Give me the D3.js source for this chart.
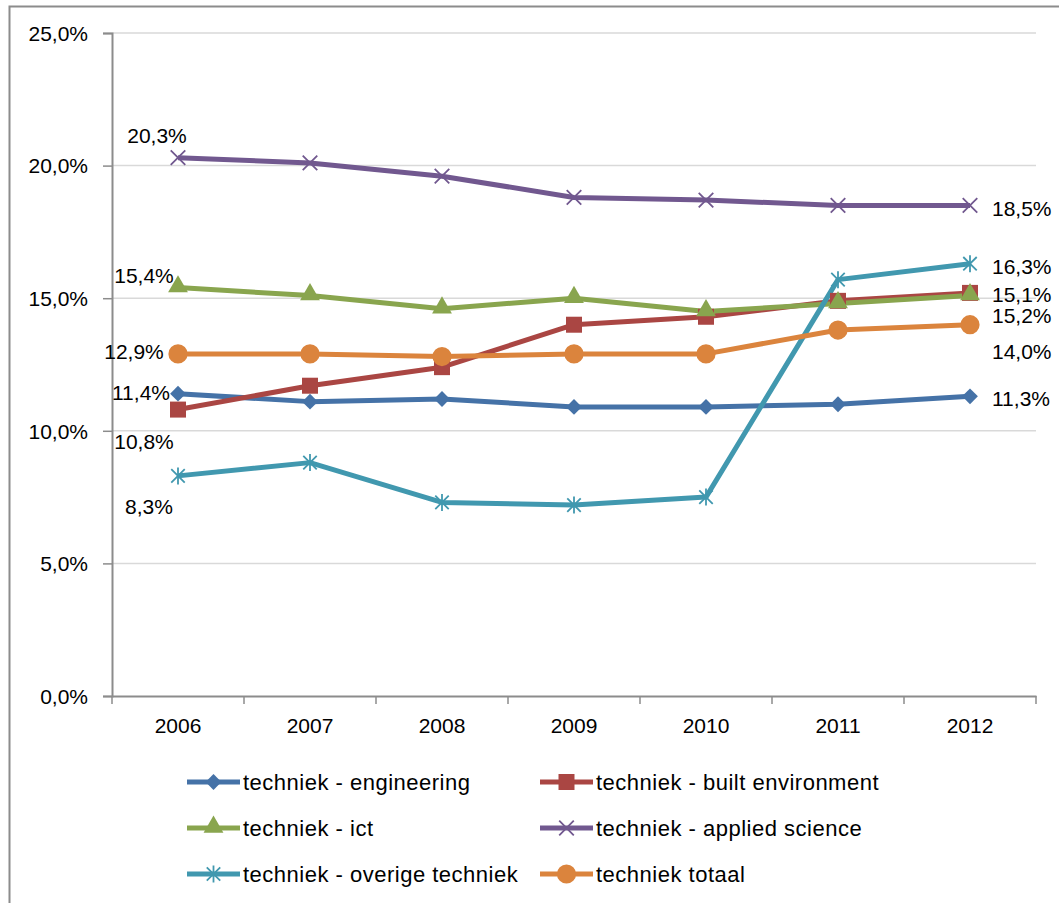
<!DOCTYPE html>
<html><head><meta charset="utf-8">
<script src="https://cdn.jsdelivr.net/npm/d3@7"></script>
<style>
html,body{margin:0;padding:0;background:#fff;}
svg text{font-family:"Liberation Sans",Arial,sans-serif;fill:#000;}
</style></head>
<body><svg id="c" width="1059" height="903"></svg>
<script>
const years = ["2006","2007","2008","2009","2010","2011","2012"];
const yTicks = [0,5,10,15,20,25];
const seriesNames = ["techniek - engineering","techniek - built environment","techniek - ict","techniek - applied science","techniek - overige techniek","techniek totaal"];
const engineering = [11.4,11.1,11.2,10.9,10.9,11.0,11.3];
const builtEnvironment = [10.8,11.7,12.4,14.0,14.3,14.9,15.2];
const ict = [15.4,15.1,14.6,15.0,14.5,14.8,15.1];
const appliedScience = [20.3,20.1,19.6,18.8,18.7,18.5,18.5];
const overigeTechniek = [8.3,8.8,7.3,7.2,7.5,15.7,16.3];
const totaal = [12.9,12.9,12.8,12.9,12.9,13.8,14.0];

const seriesValues = [engineering,builtEnvironment,ict,appliedScience,overigeTechniek,totaal];
const colors = ["#4572A7","#AA4643","#89A54E","#71588F","#4198AF","#DB843D"];
const markers = ["diamond","square","triangle","x","asterisk","circle"];
// label offsets (first point, last point) relative to the point: [dx, dy]
const firstLabelOff = [[-37,-1],[-34,32],[-34,-12],[-21,-22],[-29,31],[-44,-2]];
const lastLabelOff = [[22,2],[22,23],[22,-1],[22,3],[22,3],[22,27]];

const nl = d3.formatLocale({decimal:",",thousands:".",grouping:[3],currency:["","€"]});
const f1 = nl.format(".1f");
const pct = v => f1(v) + "%";

const svg = d3.select("#c");
svg.append("rect").attr("x",9.5).attr("y",6.5).attr("width",1100).attr("height",1000)
  .attr("fill","none").attr("stroke","#8c8c8c").attr("stroke-width",2);

const x = d3.scaleBand().domain(years).range([112,1036]).paddingInner(0).paddingOuter(0);
const y = d3.scaleLinear().domain([0,25]).range([696,33]);

// gridlines
svg.append("g").selectAll("line").data(yTicks.filter(d=>d>0)).join("line")
  .attr("x1",112).attr("x2",1036).attr("y1",d=>y(d)).attr("y2",d=>y(d))
  .attr("stroke","#d9d9d9").attr("stroke-width",1.5);

// y axis
const ya = svg.append("g").attr("transform","translate(112,0)")
  .call(d3.axisLeft(y).tickValues(yTicks).tickSize(9).tickPadding(15).tickFormat(pct));
ya.select(".domain").attr("stroke","#8c8c8c").attr("stroke-width",2);
ya.selectAll(".tick line").attr("stroke","#8c8c8c").attr("stroke-width",1.5);
ya.selectAll("text").style("font-size","21px").attr("dy","0.35em");

// x axis
const xa = svg.append("g").attr("transform","translate(0,696)")
  .call(d3.axisBottom(x).tickSize(0).tickPadding(22));
xa.select(".domain").attr("stroke","#8c8c8c").attr("stroke-width",2);
xa.selectAll("text").style("font-size","21px");
const bounds = years.map(d=>x(d)).concat([x.range()[1]]);
xa.append("g").selectAll("line").data(bounds).join("line")
  .attr("x1",d=>d).attr("x2",d=>d).attr("y1",0).attr("y2",8)
  .attr("stroke","#8c8c8c").attr("stroke-width",1.5);

function drawMarker(g, type, color) {
  if (type==="diamond") {
    g.append("path").attr("d",d3.symbol(d3.symbolSquare,125)()).attr("transform","rotate(45)").attr("fill",color);
  } else if (type==="square") {
    g.append("path").attr("d",d3.symbol(d3.symbolSquare,256)()).attr("fill",color);
  } else if (type==="triangle") {
    g.append("path").attr("d",d3.symbol(d3.symbolTriangle,170)()).attr("transform","translate(0,-1)").attr("fill",color);
  } else if (type==="x") {
    g.append("path").attr("d",d3.symbol(d3.symbolX,140)()).attr("fill","none").attr("stroke",color).attr("stroke-width",1.8);
  } else if (type==="asterisk") {
    g.append("path").attr("d",d3.symbol(d3.symbolX,120)()).attr("fill","none").attr("stroke",color).attr("stroke-width",1.8);
    g.append("path").attr("d","M0,-8.5L0,8.5").attr("fill","none").attr("stroke",color).attr("stroke-width",1.8);
  } else if (type==="circle") {
    g.append("path").attr("d",d3.symbol(d3.symbolCircle,290)()).attr("fill",color);
  }
}

const line = d3.line().x((d,i)=>x(years[i])+x.bandwidth()/2).y(d=>y(d));
const order = [0,1,2,3,4,5];
order.forEach(si=>{
  const vals = seriesValues[si];
  svg.append("path").datum(vals).attr("d",line).attr("fill","none")
    .attr("stroke",colors[si]).attr("stroke-width",5).attr("stroke-linejoin","round");
});
order.forEach(si=>{
  const vals = seriesValues[si];
  vals.forEach((v,i)=>{
    const g = svg.append("g").attr("transform",`translate(${x(years[i])+x.bandwidth()/2},${y(v)})`);
    drawMarker(g, markers[si], colors[si]);
  });
});
// data labels
order.forEach(si=>{
  const vals = seriesValues[si];
  const n = vals.length;
  const cx0 = x(years[0])+x.bandwidth()/2, cxn = x(years[n-1])+x.bandwidth()/2;
  svg.append("text").attr("x",cx0+firstLabelOff[si][0]).attr("y",y(vals[0])+firstLabelOff[si][1])
    .attr("text-anchor","middle").attr("dy","0.35em").style("font-size","21px").text(pct(vals[0]));
  svg.append("text").attr("x",cxn+lastLabelOff[si][0]).attr("y",y(vals[n-1])+lastLabelOff[si][1])
    .attr("text-anchor","start").attr("dy","0.35em").style("font-size","21px").text(pct(vals[n-1]));
});

// legend
const legX = [187,540], legY = [782,828,874];
seriesNames.forEach((name,i)=>{
  const col = i%2, row = Math.floor(i/2);
  const g = svg.append("g").attr("transform",`translate(${legX[col]},${legY[row]})`);
  g.append("line").attr("x1",0).attr("x2",53).attr("y1",0).attr("y2",0)
    .attr("stroke",colors[i]).attr("stroke-width",5);
  const m = g.append("g").attr("transform","translate(26.5,0)");
  drawMarker(m, markers[i], colors[i]);
  g.append("text").attr("x",56).attr("y",0).attr("dy","0.35em")
    .style("font-size","22px").style("letter-spacing","0.5px").text(name);
});
</script></body></html>
